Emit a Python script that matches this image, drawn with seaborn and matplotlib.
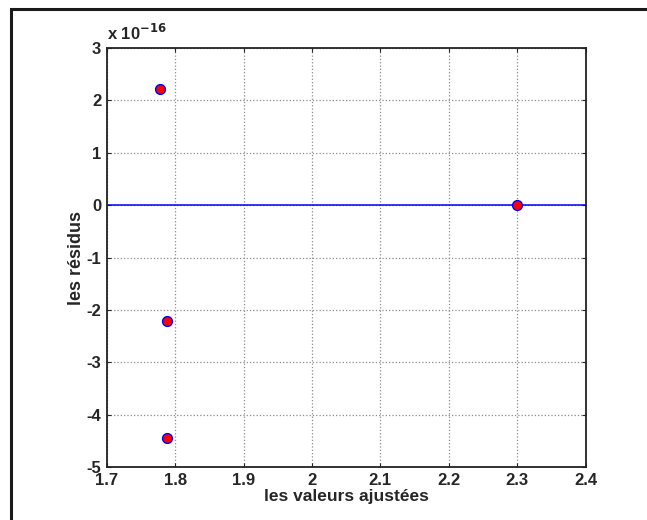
import matplotlib
matplotlib.use("Agg")
import matplotlib.pyplot as plt
import seaborn as sns
import pandas as pd
from matplotlib.patches import Rectangle

# valeurs (résidus en unités de 1e-16)
valeurs_ajustees = [1.778, 1.788, 1.788, 2.300]
residus_e16 = [2.22, -2.22, -4.44, 0.0]
exposant = -16

x_ticks = [1.7, 1.8, 1.9, 2.0, 2.1, 2.2, 2.3, 2.4]
x_labels = ["1.7", "1.8", "1.9", "2", "2.1", "2.2", "2.3", "2.4"]
y_ticks = [-5, -4, -3, -2, -1, 0, 1, 2, 3]

df = pd.DataFrame({"ajustees": valeurs_ajustees, "residus": residus_e16})

sns.set_theme(style="white")
plt.rcParams['font.family'] = ['Liberation Sans', 'DejaVu Sans']
plt.rcParams['font.weight'] = 'bold'

fig = plt.figure(figsize=(6.47, 5.2), dpi=100)
ax = fig.add_axes([0.165, 0.1013, 0.740, 0.8070])

# cadre noir autour de la figure (style capture MATLAB)
fig.patches.append(Rectangle((11 / 647, -0.05), 1.2, 1.05 - 9 / 520,
                             transform=fig.transFigure, fill=False,
                             edgecolor="#1a1a1a", linewidth=2.2, zorder=0))

ax.grid(True, color="0.55", linestyle=":", linewidth=0.9)
ax.axhline(0, color="blue", linewidth=1.1, zorder=2)
sns.scatterplot(data=df, x="ajustees", y="residus", ax=ax, s=50,
                color="red", edgecolor="blue", linewidth=1.0, zorder=3)

ax.set_xlim(1.7, 2.4)
ax.set_ylim(-5, 3)
ax.set_xticks(x_ticks)
ax.set_xticklabels(x_labels)
ax.set_yticks(y_ticks)
ax.set_yticklabels([str(t) for t in y_ticks])
ax.tick_params(direction="in", length=3, width=0.8, labelsize=12,
               top=True, right=True, bottom=True, left=True)
ax.tick_params(axis="x", pad=4)
ax.tick_params(axis="y", pad=4)
for lbl in ax.get_xticklabels() + ax.get_yticklabels():
    lbl.set_fontweight("bold")
for sp in ax.spines.values():
    sp.set_color("#222222")
    sp.set_linewidth(1.3)

ax.set_xlabel("les valeurs ajustées", fontsize=12.5, fontweight="bold", labelpad=1)
ax.set_ylabel("les résidus", fontsize=13, fontweight="bold", labelpad=1)
ax.text(0.0, 1.012, f"x 10$^{{{exposant}}}$", transform=ax.transAxes,
        fontsize=12, fontweight="bold", ha="left", va="bottom")

fig.savefig("out.png", dpi=100)
